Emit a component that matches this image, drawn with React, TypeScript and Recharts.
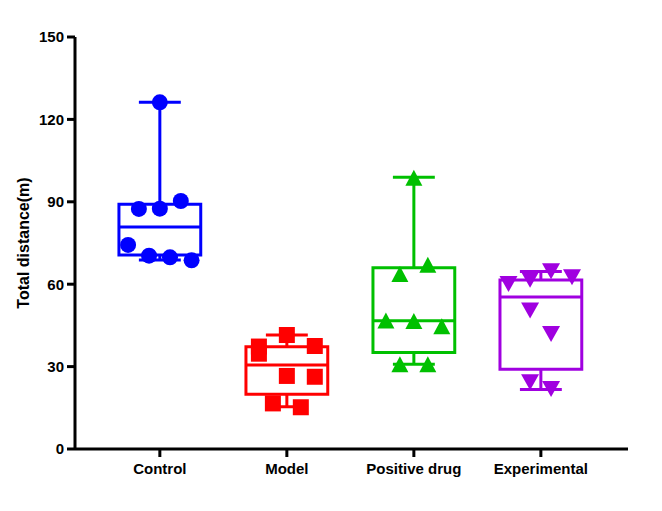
import React from 'react';
import { ScatterChart, Scatter, XAxis, YAxis, ReferenceArea, ReferenceLine } from 'recharts';

const categories = ['Control', 'Model', 'Positive drug', 'Experimental'];
const colors = ['#0000FF', '#FF0000', '#00C000', '#A000E0'];
const yTicks = [0, 30, 60, 90, 120, 150];

const controlValues = [126.2, 87.4, 87.5, 90.3, 74.3, 70.4, 69.8, 68.7];
const controlJitter = [0, -0.165, 0, 0.165, -0.25, -0.085, 0.08, 0.25];
const modelValues = [41.5, 37.3, 34.7, 37.5, 26.6, 26.3, 16.6, 15.2];
const modelJitter = [0, -0.22, -0.22, 0.22, 0, 0.22, -0.11, 0.11];
const positiveValues = [98.8, 63.7, 67.1, 46.8, 46.6, 44.7, 30.9, 30.9];
const positiveJitter = [0, -0.11, 0.11, -0.22, 0, 0.22, -0.11, 0.11];
const experimentalValues = [60.1, 61.6, 64.7, 62.5, 50.4, 41.9, 24.3, 21.8];
const experimentalJitter = [-0.255, -0.085, 0.08, 0.245, -0.085, 0.08, -0.085, 0.08];

const boxMin = [68.8, 15.4, 30.9, 21.7];
const boxQ1 = [70.6, 19.9, 35.1, 29.0];
const boxMedian = [80.8, 30.6, 46.7, 55.3];
const boxQ3 = [89.1, 37.2, 66.0, 61.5];
const boxMax = [126.2, 41.5, 98.9, 64.6];

const BOX_HALF = 0.322;
const CAP_HALF = 0.165;
const SW = 3;

const toPoints = (group: number, values: number[], jitter: number[]) =>
  values.map((v, i) => ({ x: group + jitter[i], y: v }));

const groups = [
  toPoints(0, controlValues, controlJitter),
  toPoints(1, modelValues, modelJitter),
  toPoints(2, positiveValues, positiveJitter),
  toPoints(3, experimentalValues, experimentalJitter),
];

const circleShape = (color: string) => (p: any) => <circle cx={p.cx} cy={p.cy} r={8} fill={color} />;
const squareShape = (color: string) => (p: any) => (
  <rect x={p.cx - 8} y={p.cy - 8} width={16} height={16} fill={color} />
);
const upShape = (color: string) => (p: any) => (
  <path d={`M${p.cx},${p.cy - 8} L${p.cx + 8.5},${p.cy + 8} L${p.cx - 8.5},${p.cy + 8} Z`} fill={color} />
);
const downShape = (color: string) => (p: any) => (
  <path d={`M${p.cx - 9},${p.cy - 8} L${p.cx + 9},${p.cy - 8} L${p.cx},${p.cy + 8} Z`} fill={color} />
);
const shapes = [circleShape, squareShape, upShape, downShape];

const font = "'Liberation Sans', Arial, sans-serif";
const tickStyle = { fill: '#000', fontSize: 15, fontWeight: 'bold', fontFamily: font };

const YLabel = (props: any) => {
  const vb = props.viewBox || { x: 0, y: 0, width: 0, height: 0 };
  const cx = 23.5;
  const cy = vb.y + vb.height / 2;
  return (
    <text
      x={cx}
      y={cy}
      transform={`rotate(-90, ${cx}, ${cy})`}
      textAnchor="middle"
      dominantBaseline="central"
      fontFamily={font}
      fontWeight="bold"
      fontSize={16}
      fill="#000"
    >
      Total distance(m)
    </text>
  );
};

export default function App() {
  return (
    <div style={{ position: 'absolute', left: 0, top: 0, background: '#fff' }}>
      <ScatterChart width={662} height={511} margin={{ top: 37, right: 34, bottom: 22, left: 0 }}>
        <XAxis
          type="number"
          dataKey="x"
          domain={[-0.668, 3.686]}
          allowDataOverflow
          ticks={[0, 1, 2, 3]}
          tickFormatter={(v: number) => categories[Math.round(v)] ?? ''}
          interval={0}
          height={40}
          stroke="#000"
          strokeWidth={SW}
          tickSize={8}
          tickMargin={6}
          tick={tickStyle}
        />
        <YAxis
          type="number"
          dataKey="y"
          domain={[0, 150]}
          ticks={yTicks}
          interval={0}
          width={75}
          stroke="#000"
          strokeWidth={SW}
          tickSize={8}
          tickMargin={3}
          tick={tickStyle}
          label={<YLabel />}
        />
        {categories.map((c, i) => (
          <ReferenceArea
            key={`box-${c}`}
            x1={i - BOX_HALF}
            x2={i + BOX_HALF}
            y1={boxQ1[i]}
            y2={boxQ3[i]}
            fill="none"
            fillOpacity={0}
            stroke={colors[i]}
            strokeWidth={SW}
            strokeOpacity={1}
          />
        ))}
        {categories.map((c, i) => (
          <ReferenceLine
            key={`med-${c}`}
            segment={[{ x: i - BOX_HALF, y: boxMedian[i] }, { x: i + BOX_HALF, y: boxMedian[i] }]}
            stroke={colors[i]}
            strokeWidth={SW}
          />
        ))}
        {categories.map((c, i) => (
          <ReferenceLine
            key={`wu-${c}`}
            segment={[{ x: i, y: boxQ3[i] }, { x: i, y: boxMax[i] }]}
            stroke={colors[i]}
            strokeWidth={SW}
          />
        ))}
        {categories.map((c, i) => (
          <ReferenceLine
            key={`wl-${c}`}
            segment={[{ x: i, y: boxQ1[i] }, { x: i, y: boxMin[i] }]}
            stroke={colors[i]}
            strokeWidth={SW}
          />
        ))}
        {categories.map((c, i) => (
          <ReferenceLine
            key={`cu-${c}`}
            segment={[{ x: i - CAP_HALF, y: boxMax[i] }, { x: i + CAP_HALF, y: boxMax[i] }]}
            stroke={colors[i]}
            strokeWidth={SW}
          />
        ))}
        {categories.map((c, i) => (
          <ReferenceLine
            key={`cl-${c}`}
            segment={[{ x: i - CAP_HALF, y: boxMin[i] }, { x: i + CAP_HALF, y: boxMin[i] }]}
            stroke={colors[i]}
            strokeWidth={SW}
          />
        ))}
        {groups.map((g, i) => (
          <Scatter
            key={`pts-${categories[i]}`}
            data={g}
            fill={colors[i]}
            shape={shapes[i](colors[i])}
            isAnimationActive={false}
          />
        ))}
      </ScatterChart>
    </div>
  );
}
